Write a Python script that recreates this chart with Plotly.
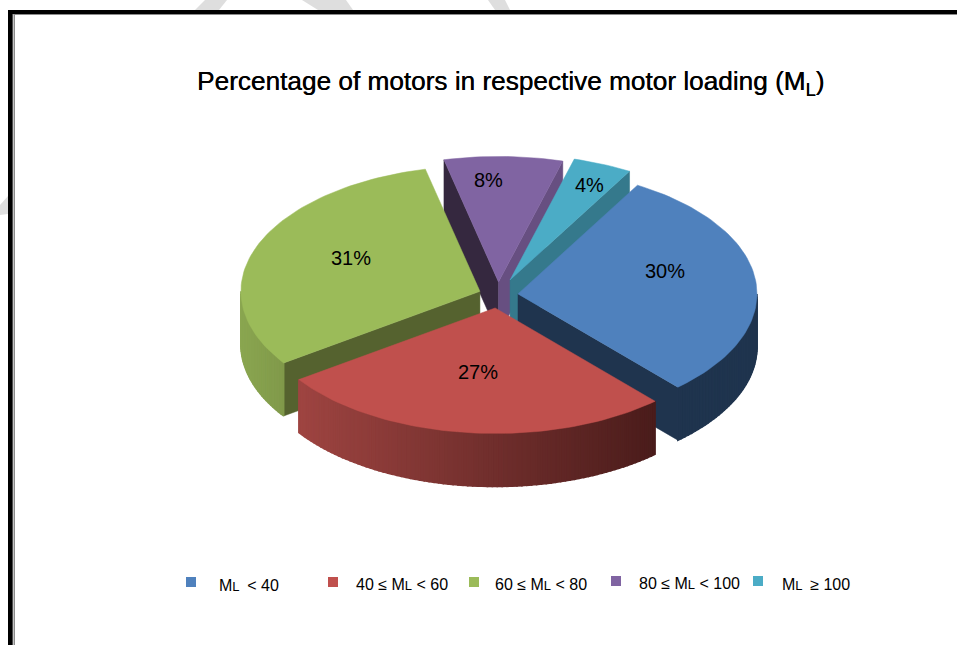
import math
import plotly.graph_objects as go

categories = ["ML < 40", "40 ≤ ML < 60", "60 ≤ ML < 80", "80 ≤ ML < 100", "ML ≥ 100"]
legend_texts = ["M{L}\u00a0\u2009< 40", "40 ≤ M{L} < 60", "60 ≤ M{L} < 80", "80 ≤ M{L} < 100", "M{L}\u00a0\u2009≥ 100"]
values = [30, 27, 31, 8, 4]
pull = [0.084, 0.104, 0.081, 0.104, 0.13]
top_colors = ["#4F81BD", "#C0504D", "#9BBB59", "#8064A2", "#4BACC6"]
# cut faces that can be seen: 's' is the slice's starting edge, 'e' its ending edge
cut_faces = [[("e", "#1F344E")], [], [("s", "#55622F")],
             [("s", "#35283F"), ("e", "#674F81")], [("e", "#35798C")]]
outer_from = ["#1F344E", "#9E4441", "#8AA650", None, None]
outer_to = ["#1F344E", "#4A1C1B", "#80994A", None, None]

FIRST_ANGLE = 30.0
CX, CY, RX, RY, DEPTH = 498.0, 295.0, 239.0, 125.5, 53.0
FONT = "Liberation Sans"

label_xy = [(665, 271), (478, 372), (351, 258), (488, 180), (589, 185)]
legend_marker_x = [191, 333, 474, 616, 758]
legend_marker_y = [582, 582, 582, 581, 581]
legend_text_x = [217, 354, 493, 637, 780]
legend_text_y = [585, 584, 584, 583, 584]

fig = go.Figure()


def hexrgb(c):
    return tuple(int(c[i:i + 2], 16) for i in (1, 3, 5))


def mix(a, b, t):
    ra, rb = hexrgb(a), hexrgb(b)
    return "rgb(%d,%d,%d)" % tuple(round(ra[i] + (rb[i] - ra[i]) * t) for i in range(3))


def poly(xs, ys, color, name, width=0.5):
    fig.add_trace(go.Scatter(x=xs, y=ys, mode="lines", fill="toself", fillcolor=color,
                             line=dict(color=color, width=width), hoverinfo="skip",
                             showlegend=False, name=name))


total = sum(values)
bounds = []
a = FIRST_ANGLE
for v in values:
    bounds.append((a, a + v / total * 360))
    a += v / total * 360


def rim(ax, ay, deg):
    t = math.radians(deg)
    return ax + RX * math.sin(t), ay - RY * math.cos(t)


def draw_slice(i):
    s, e = bounds[i]
    m = math.radians((s + e) / 2)
    ax = CX + pull[i] * RX * math.sin(m)
    ay = CY - pull[i] * RY * math.cos(m)
    # radial cut faces
    for edge, col in cut_faces[i]:
        x1, y1 = rim(ax, ay, s if edge == "s" else e)
        poly([ax, x1, x1, ax, ax], [ay, y1, y1 + DEPTH, ay + DEPTH, ay], col, categories[i] + " face")
    # outer wall, only where the rim faces the viewer, in narrow shaded strips
    if outer_from[i]:
        lo, hi = max(s, 90.0), min(e, 270.0)
        n = int((hi - lo) / 1.2) + 1
        x_hi, x_lo = rim(ax, ay, lo)[0], rim(ax, ay, hi)[0]
        for k in range(n):
            d0 = lo + (hi - lo) * k / n
            d1 = lo + (hi - lo) * (k + 1) / n
            p0, p1 = rim(ax, ay, d0), rim(ax, ay, d1)
            xt = ((p0[0] + p1[0]) / 2 - x_lo) / (x_hi - x_lo)
            col = mix(outer_from[i], outer_to[i], xt)
            poly([p0[0], p1[0], p1[0], p0[0], p0[0]],
                 [p0[1], p1[1], p1[1] + DEPTH, p0[1] + DEPTH, p0[1]], col, categories[i] + " rim", width=1.6)
    # top face
    n = max(8, int((e - s) / 1.5))
    xs, ys = [ax], [ay]
    for k in range(n + 1):
        p = rim(ax, ay, s + (e - s) * k / n)
        xs.append(p[0])
        ys.append(p[1])
    xs.append(ax)
    ys.append(ay)
    poly(xs, ys, top_colors[i], categories[i])


for i in (3, 4, 2, 0, 1):
    draw_slice(i)

annotations = [dict(x=510.5, y=82.5, xref="x", yref="y", showarrow=False,
                    text="Percentage of motors in respective motor loading (M<sub>L</sub>)",
                    font=dict(family=FONT, size=26.2, color="#000000",
                              shadow="0.35px 0 0 #000000")) ]
for (x, y), v in zip(label_xy, values):
    annotations.append(dict(x=x, y=y, xref="x", yref="y", showarrow=False, text="%d%%" % v,
                            font=dict(family=FONT, size=20, color="#000000")))
for t, x, y in zip(legend_texts, legend_text_x, legend_text_y):
    annotations.append(dict(x=x, y=y, xref="x", yref="y", xanchor="left", showarrow=False,
                            text=t.replace("{L}", "<span style='font-size:13px'>L</span>"),
                            font=dict(family=FONT, size=16, color="#000000")))

fig.add_trace(go.Scatter(x=legend_marker_x, y=legend_marker_y, mode="markers", hoverinfo="skip",
                         showlegend=False,
                         marker=dict(symbol="square", size=10, color=top_colors, line=dict(width=0))))

GREY = "#DEDEDE"
shapes = [
    # faint watermark bands behind the frame
    dict(type="path", path="M 195 10 L 205 0 L 227 0 L 219 10 Z", fillcolor=GREY, line_width=0, layer="below"),
    dict(type="path", path="M 302 0 L 346 0 L 353 10 L 318 10 Z", fillcolor=GREY, line_width=0, layer="below"),
    dict(type="path", path="M 488 0 L 505 0 L 510 10 L 495 10 Z", fillcolor=GREY, line_width=0, layer="below"),
    dict(type="path", path="M 0 205 L 8 196 L 8 214 L 0 215 Z", fillcolor=GREY, line_width=0, layer="below"),
    dict(type="rect", x0=8, x1=12.7, y0=10, y1=645, fillcolor="#000000", line_width=0, layer="below"),
    dict(type="rect", x0=8, x1=957, y0=10, y1=14, fillcolor="#000000", line_width=0, layer="below"),
    dict(type="rect", x0=13.5, x1=15, y0=14, y1=645, fillcolor="#8C8C8C", line_width=0, layer="below"),
    dict(type="rect", x0=13.5, x1=957, y0=14, y1=15, fillcolor="#8C8C8C", line_width=0, layer="below"),
]

fig.update_layout(
    width=957, height=645, margin=dict(l=0, r=0, t=0, b=0),
    paper_bgcolor="#FFFFFF", plot_bgcolor="#FFFFFF", showlegend=False,
    xaxis=dict(range=[0, 957], visible=False, fixedrange=True),
    yaxis=dict(range=[645, 0], visible=False, fixedrange=True),
    annotations=annotations, shapes=shapes,
)
fig.write_html("out.html", config=dict(displayModeBar=False),
               post_script="document.body.style.margin='0';document.body.style.overflow='hidden';")
